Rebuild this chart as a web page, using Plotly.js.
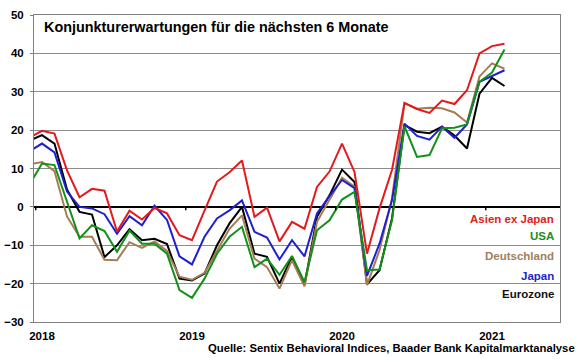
<!DOCTYPE html>
<html>
<head>
<meta charset="utf-8">
<script src="https://cdn.plot.ly/plotly-3.0.1.min.js"></script>
<style>
  html, body { margin: 0; padding: 0; background: #ffffff; }
  #chart { width: 580px; height: 359px; }
</style>
</head>
<body>
<div id="chart"></div>
<script>
// Monthly observations (first one is partly cut off by the axis, as in the original)
const months = [
  '2017-12',
  '2018-01','2018-02','2018-03','2018-04','2018-05','2018-06','2018-07','2018-08','2018-09','2018-10','2018-11','2018-12',
  '2019-01','2019-02','2019-03','2019-04','2019-05','2019-06','2019-07','2019-08','2019-09','2019-10','2019-11','2019-12',
  '2020-01','2020-02','2020-03','2020-04','2020-05','2020-06','2020-07','2020-08','2020-09','2020-10','2020-11','2020-12',
  '2021-01','2021-02'
];

const asienExJapan = [
  18.1,
  19.8, 19.1, 9.5, 2.5, 4.7, 4.2, -6.4, -1.0, -3.3, -0.3, -1.7, -7.4,
  -8.7, -1.0, 6.6, 9.0, 12.1, -2.6, -0.2, -9.0, -3.9, -5.7, 5.2, 9.2,
  16.5, 9.1, -12.2, -0.4, 9.6, 27.1, 25.5, 24.5, 27.7, 26.8, 30.4, 40.0,
  41.9, 42.5
];
const usa = [
  5.8,
  11.3, 10.9, 1.5, -8.2, -4.8, -6.3, -11.7, -6.2, -9.6, -9.6, -12.2, -21.7,
  -23.7, -18.7, -12.2, -7.8, -5.2, -15.7, -13.5, -17.7, -12.8, -19.6, -6.1, -3.5,
  1.9, 3.9, -16.5, -16.3, -3.5, 21.0, 13.0, 13.5, 20.5, 20.6, 21.5, 32.6,
  35.0, 41.0
];
const deutschland = [
  11.1,
  11.7, 9.3, -2.5, -7.8, -7.8, -13.8, -13.9, -9.2, -10.7, -9.0, -11.5, -18.2,
  -19.0, -17.2, -11.3, -5.7, -2.2, -13.5, -15.7, -21.3, -13.9, -20.7, -3.9, 1.7,
  7.6, 5.2, -20.4, -11.3, 2.2, 27.0, 25.6, 25.8, 25.7, 24.6, 22.0, 34.0,
  37.4, 36.0
];
const japan = [
  14.5,
  16.5, 14.2, 4.0, 0.0, -0.4, -1.9, -7.0, -2.4, -4.8, 0.3, -3.4, -12.9,
  -15.0, -7.8, -3.0, -0.9, 1.7, -6.5, -8.0, -13.7, -8.7, -12.9, -1.7, 2.8,
  7.0, 4.9, -18.0, -9.6, 1.7, 21.7, 18.5, 17.5, 20.9, 18.0, 21.5, 32.6,
  34.0, 35.6
];
const eurozone = [
  17.3,
  18.7, 16.5, 4.5, -1.3, -2.0, -13.1, -10.0, -5.8, -8.7, -8.3, -9.7, -18.7,
  -19.2, -17.4, -10.0, -4.3, 0.0, -12.2, -13.0, -20.0, -13.0, -20.4, -2.6, 3.0,
  9.7, 6.5, -20.2, -16.5, -3.0, 21.3, 19.6, 19.2, 20.9, 18.6, 15.2, 29.5,
  33.6, 31.5
];

const tickYears = ['2018', '2019', '2020', '2021'];
const seriesNames = ['Asien ex Japan', 'USA', 'Deutschland', 'Japan', 'Eurozone'];
const titleText = 'Konjunkturerwartungen für die nächsten 6 Monate';
const sourceText = 'Quelle: Sentix Behavioral Indices, Baader Bank Kapitalmarktanalyse';

// ---- styling / construction ----
const colors = {
  'Asien ex Japan': '#e31a1c',
  'USA': '#13901a',
  'Deutschland': '#a57c55',
  'Japan': '#1f1fcf',
  'Eurozone': '#000000'
};
const labelColors = {
  'Asien ex Japan': '#e02020',
  'USA': '#1a8f1a',
  'Deutschland': '#a08060',
  'Japan': '#2424c8',
  'Eurozone': '#111111'
};
const values = {
  'Asien ex Japan': asienExJapan,
  'USA': usa,
  'Deutschland': deutschland,
  'Japan': japan,
  'Eurozone': eurozone
};

const xIdx = months.map((m, i) => i);
const drawOrder = ['Eurozone', 'Deutschland', 'Japan', 'USA', 'Asien ex Japan'];
const traces = drawOrder.map(name => ({
  type: 'scatter',
  mode: 'lines',
  name: name,
  x: xIdx,
  y: values[name],
  line: { color: colors[name], width: 2 },
  hoverinfo: 'skip'
}));

const tickvals = tickYears.map(y => months.indexOf(y + '-01'));
const font = 'Liberation Sans, Arial, sans-serif';

// small tick marks on the zero line at year boundaries
const shapes = [0.5].concat(tickvals.slice(1).map(v => v - 0.5)).map(v => ({
  type: 'line', xref: 'x', yref: 'y',
  x0: v, x1: v, y0: 0, y1: -0.9,
  line: { color: '#000000', width: 1.5 }
}));

const labelY = [-3.1, -7.5, -12.9, -18.0, -22.7];
const annotations = [
  {
    xref: 'paper', yref: 'paper', x: 0.0152, y: 0.961,
    xanchor: 'left', yanchor: 'middle', showarrow: false,
    text: titleText,
    font: { family: font, size: 14.4, color: '#000000', weight: 'bold' }
  },
  {
    xref: 'paper', yref: 'paper', x: 1.0323, y: -0.085,
    xanchor: 'right', yanchor: 'middle', showarrow: false,
    text: sourceText,
    font: { family: font, size: 11.3, color: '#000000', weight: 'bold' }
  }
].concat(seriesNames.map((name, i) => ({
  xref: 'paper', yref: 'y', x: 0.9924, y: labelY[i],
  xanchor: 'right', yanchor: 'middle', showarrow: false,
  text: name,
  font: { family: font, size: 11.5, color: labelColors[name], weight: 'bold' }
})));

const layout = {
  width: 580, height: 359,
  margin: { l: 34, r: 20, t: 15, b: 37 },
  paper_bgcolor: '#ffffff',
  plot_bgcolor: '#ffffff',
  showlegend: false,
  font: { family: font, size: 11.5, color: '#000000' },
  xaxis: {
    type: 'linear',
    range: [0.36, 42.44],
    tickmode: 'array',
    tickvals: tickvals,
    ticktext: tickYears,
    ticks: '',
    showgrid: false,
    zeroline: false,
    showline: true, mirror: true,
    linecolor: '#808080', linewidth: 1,
    tickfont: { family: font, size: 11.5, color: '#000000', weight: 'bold' },
    ticklabelstandoff: 3
  },
  yaxis: {
    range: [-30, 50],
    dtick: 10,
    tick0: 0,
    ticks: 'outside', ticklen: 3, tickcolor: '#808080', tickwidth: 1,
    showgrid: true, gridcolor: '#8c8c8c', gridwidth: 1,
    zeroline: true, zerolinecolor: '#000000', zerolinewidth: 2,
    showline: true, mirror: true,
    linecolor: '#808080', linewidth: 1,
    tickfont: { family: font, size: 11.5, color: '#000000', weight: 'bold' },
    ticklabelstandoff: 4
  },
  shapes: shapes,
  annotations: annotations
};

Plotly.newPlot('chart', traces, layout, { staticPlot: true, displayModeBar: false });
</script>
</body>
</html>
